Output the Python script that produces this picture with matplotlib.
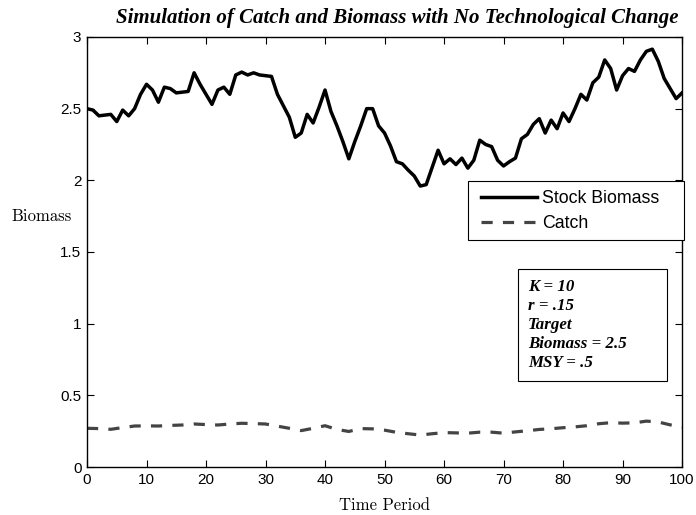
import matplotlib
matplotlib.use("Agg")
import matplotlib.pyplot as plt
from matplotlib.patches import Rectangle
import numpy as np

# ---- data ----
biomass_t = list(range(0, 101))
biomass = [2.50, 2.49, 2.45, 2.455, 2.46, 2.41, 2.49, 2.45, 2.50, 2.60,
           2.67, 2.63, 2.545, 2.65, 2.64, 2.61, 2.615, 2.62, 2.75, 2.67,
           2.60, 2.53, 2.63, 2.65, 2.60, 2.735, 2.755, 2.735, 2.75, 2.735,
           2.73, 2.725, 2.60, 2.52, 2.44, 2.30, 2.33, 2.46, 2.40, 2.51,
           2.63, 2.48, 2.38, 2.27, 2.15, 2.27, 2.38, 2.50, 2.50, 2.38,
           2.33, 2.24, 2.13, 2.115, 2.07, 2.03, 1.96, 1.97, 2.09, 2.21,
           2.115, 2.15, 2.11, 2.155, 2.085, 2.14, 2.28, 2.25, 2.235, 2.14,
           2.10, 2.13, 2.155, 2.29, 2.32, 2.39, 2.43, 2.33, 2.42, 2.36,
           2.47, 2.41, 2.50, 2.60, 2.56, 2.68, 2.72, 2.84, 2.78, 2.63,
           2.73, 2.78, 2.76, 2.84, 2.90, 2.915, 2.83, 2.71, 2.64, 2.57,
           2.61]

catch_t = list(range(0, 101, 2))
catch = [0.270, 0.268, 0.263, 0.275, 0.286, 0.287, 0.286, 0.290, 0.293, 0.300,
         0.296, 0.293, 0.300, 0.305, 0.303, 0.300, 0.285, 0.270, 0.254, 0.270,
         0.288, 0.262, 0.248, 0.268, 0.266, 0.257, 0.242, 0.232, 0.223, 0.232,
         0.240, 0.238, 0.236, 0.243, 0.243, 0.236, 0.245, 0.253, 0.262, 0.267,
         0.274, 0.280, 0.288, 0.302, 0.309, 0.306, 0.308, 0.320, 0.314, 0.294,
         0.280]

xticks = list(range(0, 101, 10))
yticks = [0, 0.5, 1, 1.5, 2, 2.5, 3]
ytick_labels = ["0", "0.5", "1", "1.5", "2", "2.5", "3"]

title = "Simulation of Catch and Biomass with No Technological Change"
note_lines = ["K = 10", "r = .15", "Target", "Biomass = 2.5", "MSY = .5"]

# ---- figure ----
fig = plt.figure(figsize=(6.96, 5.15), dpi=100)
ax = fig.add_axes([0.125, 0.0932, 0.855, 0.835])

ax.plot(biomass_t, biomass, color="black", lw=2.5, label="Stock Biomass")
ax.plot(catch_t, catch, color="#444444", lw=2.3, ls=(0, (3.5, 3.2)), label="Catch")

ax.set_xlim(0, 100)
ax.set_ylim(0, 3)
ax.set_xticks(xticks)
ax.set_yticks(yticks)
ax.set_yticklabels(ytick_labels)
ax.tick_params(direction="in", top=True, right=True, length=5, width=0.8,
               labelsize=11, pad=4)
for lab in ax.get_xticklabels() + ax.get_yticklabels():
    lab.set_family("Liberation Sans")
for s in ax.spines.values():
    s.set_linewidth(1.0)

ax.set_title(title, family="Liberation Serif", style="italic", weight="bold",
             fontsize=15.0, pad=10, x=0.521)
ax.set_xlabel("Time Period", family="cmr10", fontsize=12, labelpad=8)
ax.set_ylabel("Biomass", family="cmr10", fontsize=12, rotation=0,
              va="center", ha="center")
ax.yaxis.set_label_coords(-0.0756, 0.584)

# legend: frame drawn separately
leg_box = Rectangle((0.640, 0.528), 0.363, 0.137, transform=ax.transAxes,
                    facecolor="white", edgecolor="black", linewidth=0.8,
                    zorder=5, clip_on=False)
ax.add_patch(leg_box)
leg = ax.legend(loc="upper left", bbox_to_anchor=(0.662, 0.643),
                prop={"family": "Liberation Sans", "size": 12.8},
                frameon=False, handlelength=3.15, borderpad=0,
                labelspacing=0.45, handletextpad=0.3, borderaxespad=0)
leg.set_zorder(6)

# note box
box = Rectangle((0.724, 0.200), 0.251, 0.260, transform=ax.transAxes,
                facecolor="white", edgecolor="black", linewidth=0.8, zorder=5)
ax.add_patch(box)
ax.text(0.741, 0.437, "\n".join(note_lines), transform=ax.transAxes,
        family="Liberation Serif", style="italic", weight="bold", fontsize=12.2,
        va="top", ha="left", linespacing=1.25, zorder=6)

fig.savefig("out.png", dpi=100)
